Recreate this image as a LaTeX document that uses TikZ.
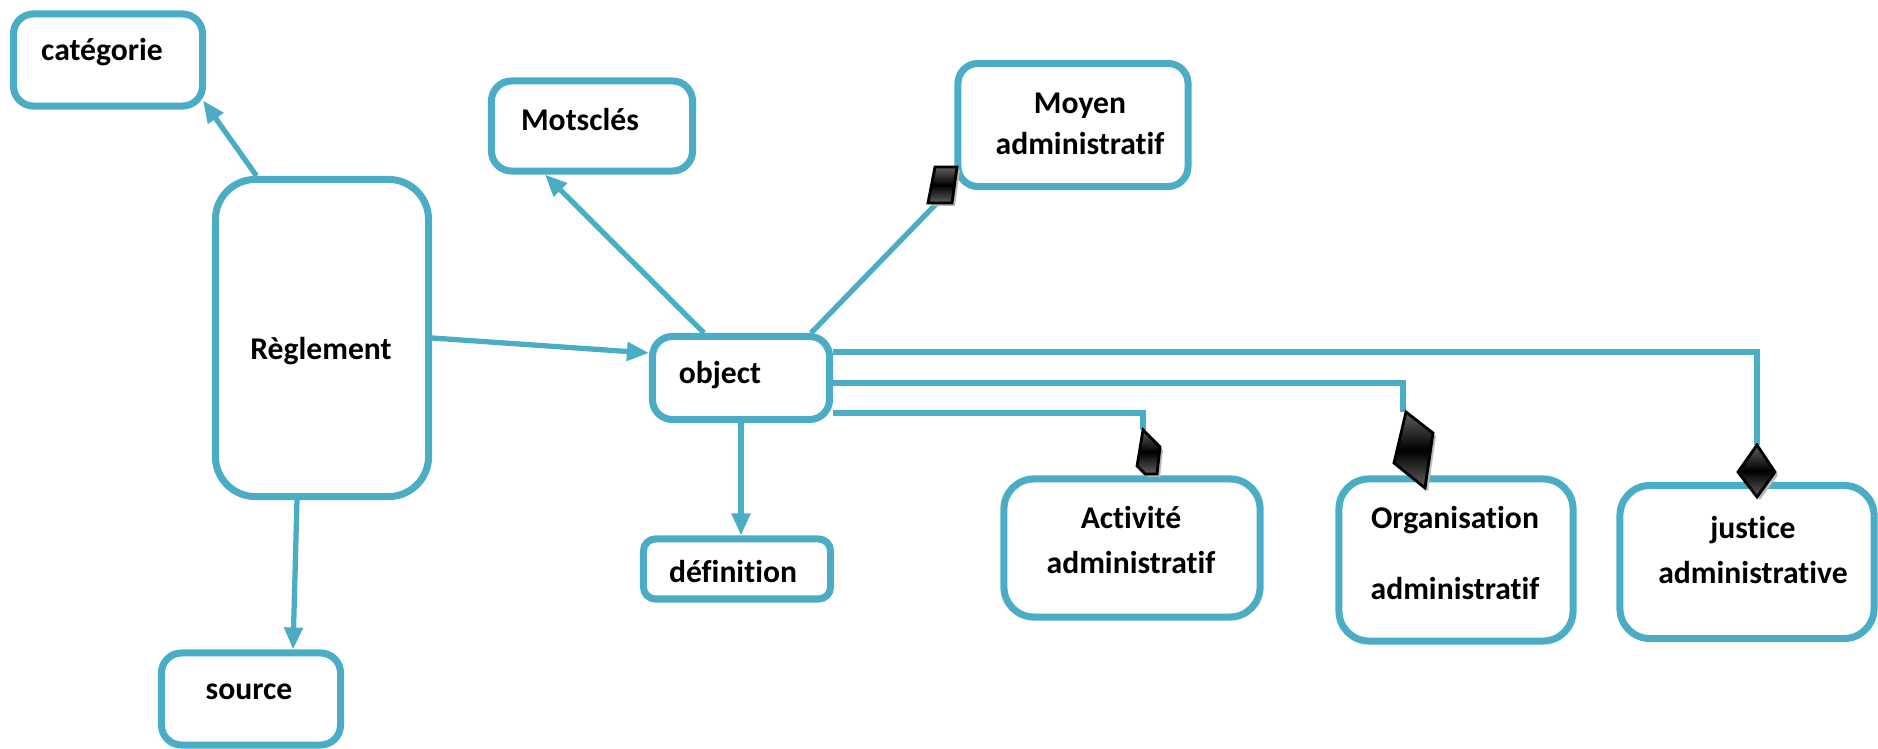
\documentclass[tikz,border=0pt]{standalone}
\usepackage{fontspec}
\setmainfont{Carlito}[Ligatures=NoCommon]
\usetikzlibrary{arrows.meta}

\definecolor{linkblue}{HTML}{4BACC6}

\begin{document}
\begin{tikzpicture}[x=0.01cm,y=-0.01cm,>={Triangle[length=0.22cm,width=0.18cm]},
  font=\bfseries\fontsize{9pt}{11pt}\selectfont,
  box/.style={draw=linkblue,line width=2pt,rounded corners=0.2cm,inner sep=0pt,fill=white},
  lbl/.style={align=center,inner sep=0pt},
  link/.style={draw=linkblue,line width=1.5pt},
  losange/.style={draw=black,line width=0.8pt,top color=gray!75!black,bottom color=gray!75!black,middle color=black},
  ombre/.style={fill=gray!55}]
 \useasboundingbox (0,0) rectangle (1878,749);
 % boxes
 \node[box,minimum width=1.89cm,minimum height=0.92cm] (cat) at (108,60) {};
 \node[box,minimum width=2.13cm,minimum height=3.17cm,rounded corners=0.4cm] (regl) at (322,338) {};
 \node[box,minimum width=1.79cm,minimum height=0.92cm] (src) at (251,699) {};
 \node[box,minimum width=2.01cm,minimum height=0.90cm] (mots) at (592,126) {};
 \node[box,minimum width=2.30cm,minimum height=1.23cm] (moy) at (1073,125) {};
 \node[box,minimum width=1.77cm,minimum height=0.83cm] (obj) at (741,378) {};
 \node[box,minimum width=1.87cm,minimum height=0.60cm,rounded corners=0.12cm] (def) at (737,569) {};
 \node[box,minimum width=2.56cm,minimum height=1.38cm,rounded corners=0.3cm] (act) at (1132,548) {};
 \node[box,minimum width=2.34cm,minimum height=1.62cm,rounded corners=0.3cm] (org) at (1456,560) {};
 \node[box,minimum width=2.54cm,minimum height=1.53cm,rounded corners=0.3cm] (jus) at (1747,562) {};
 % texts
 \node[lbl] (cat-t) at (102,52) {catégorie};
 \node[lbl] (regl-t) at (321,351) {Règlement};
 \node[lbl] (src-t) at (249,692) {source};
 \node[lbl] (mots-t) at (580,120) {Motsclés};
 \node[lbl] (moy-t) at (1080,124) {Moyen\\[0.02cm]administratif};
 \node[lbl] (obj-t) at (720,375) {object};
 \node[lbl] (def-t) at (733,572) {définition};
 \node[lbl] (act-t) at (1131,540) {Activité\\[0.07cm]administratif};
 \node[lbl] (org-t) at (1455,553) {Organisation\\[0.33cm]administratif};
 \node[lbl] (jus-t) at (1753,550) {justice\\[0.06cm]administrative};
 % diamond tips
 \coordinate (dmoy) at (937,203);
 \coordinate (dact) at (1143,430);
 \coordinate (dorg) at (1403,412);
 \coordinate (djus) at (1757,445);
 % arrows
 \draw[link,->] (regl.112) -- ([xshift=-0.03cm,yshift=0.09cm]cat.south east);
 \draw[link,->] ([xshift=-0.25cm]regl.south) -- ([xshift=0.42cm]src.north);
 \draw[link,->] (regl.east) -- ([yshift=0.25cm]obj.west);
 \draw[link,->] ([xshift=-0.37cm]obj.north) -- ([xshift=-0.47cm]mots.south);
 \draw[link,->] (obj.south) -- (obj.south |- def.north);
 % aggregations
 \draw[link] ([xshift=0.70cm]obj.north) -- (dmoy);
 \draw[link] ([yshift=0.26cm]obj.east) -| (djus);
 \draw[link] ([yshift=-0.05cm]obj.east) -| (dorg);
 \draw[link] ([yshift=-0.35cm]obj.east) -| (dact);
 % diamonds
 \fill[ombre,shift={(3,3)}] (935,167) -- (957,167) -- (952,203) -- (928,203) -- cycle;
 \path[losange] (935,167) -- (957,167) -- (952,203) -- (928,203) -- cycle;
 \fill[ombre,shift={(3,3)}] (1143,430) -- (1160,447) -- (1157,474) -- (1145,474) -- (1137,466) -- cycle;
 \path[losange] (1143,430) -- (1160,447) -- (1157,474) -- (1145,474) -- (1137,466) -- cycle;
 \fill[ombre,shift={(3,3)}] (1406,412) -- (1433,433) -- (1425,488) -- (1394,463) -- cycle;
 \path[losange] (1406,412) -- (1433,433) -- (1425,488) -- (1394,463) -- cycle;
 \fill[ombre,shift={(3,3)}] (1757,445) -- (1775,472) -- (1757,497) -- (1738,472) -- cycle;
 \path[losange] (1757,445) -- (1775,472) -- (1757,497) -- (1738,472) -- cycle;
\end{tikzpicture}
\end{document}
